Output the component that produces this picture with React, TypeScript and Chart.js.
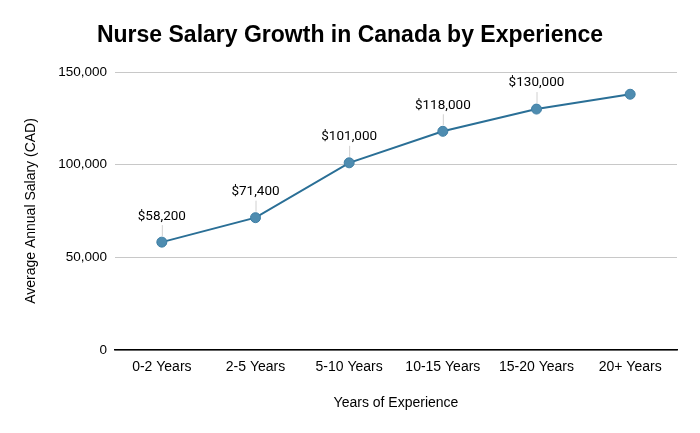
import React, { useEffect, useRef } from "react";
import { Chart, registerables } from "chart.js";

Chart.register(...registerables);

const categories = ["0-2 Years", "2-5 Years", "5-10 Years", "10-15 Years", "15-20 Years", "20+ Years"];
const salaries = [58200, 71400, 101000, 118000, 130000, 138000];
const pointLabels = ["$58,200", "$71,400", "$101,000", "$118,000", "$130,000", ""];
const chartTitle = "Nurse Salary Growth in Canada by Experience";
const xTitle = "Years of Experience";
const yTitle = "Average Annual Salary (CAD)";

const ARIAL = "'Liberation Sans', Arial, sans-serif";
const ROBOTO = "Roboto, 'Liberation Sans', Arial, sans-serif";

const titlePlugin = {
  id: "customTitle",
  afterDraw(chart: any) {
    const ctx = chart.ctx;
    ctx.save();
    ctx.font = `bold 23px ${ARIAL}`;
    ctx.fillStyle = "#000";
    ctx.textAlign = "center";
    ctx.textBaseline = "middle";
    ctx.fillText(chartTitle, 350, 36);
    ctx.restore();
  },
};

const labelPlugin = {
  id: "pointLabels",
  afterDatasetsDraw(chart: any) {
    const ctx = chart.ctx;
    const meta = chart.getDatasetMeta(0);
    ctx.save();
    meta.data.forEach((pt: any, i: number) => {
      const txt = pointLabels[i];
      if (!txt) return;
      const x = pt.x;
      const y = pt.y;
      ctx.strokeStyle = "#d0d0d0";
      ctx.lineWidth = 1;
      ctx.beginPath();
      ctx.moveTo(x + 0.5, y - 6);
      ctx.lineTo(x + 0.5, y - 17);
      ctx.stroke();
      ctx.font = `13.5px ${ROBOTO}`;
      ctx.fillStyle = "#000";
      ctx.textAlign = "center";
      ctx.textBaseline = "middle";
      ctx.fillText(txt, x, y - 26);
    });
    ctx.restore();
  },
};

export default function App() {
  const ref = useRef<HTMLCanvasElement | null>(null);
  useEffect(() => {
    if (!ref.current) return;
    const chart = new Chart(ref.current, {
      type: "line",
      data: {
        labels: categories,
        datasets: [
          {
            data: salaries,
            borderColor: "#2a6f96",
            backgroundColor: "#4e8cb0",
            pointBackgroundColor: "#4e8cb0",
            pointBorderColor: "#3f7fa5",
            pointBorderWidth: 1,
            pointRadius: 5,
            borderWidth: 2,
            tension: 0,
          },
        ],
      },
      options: {
        animation: false,
        responsive: false,
        maintainAspectRatio: false,
        layout: { padding: { top: 72, left: 0, right: 23, bottom: 0 } },
        plugins: {
          legend: { display: false },
          title: { display: false },
          tooltip: { enabled: false },
        },
        scales: {
          x: {
            offset: true,
            grid: { display: false, drawTicks: false },
            border: { display: true, color: "#000", width: 1.5 },
            ticks: { color: "#000", font: { family: ARIAL, size: 14 }, padding: 9, maxRotation: 0 },
            title: {
              display: true,
              text: xTitle,
              color: "#000",
              font: { family: ARIAL, size: 14 },
              padding: { top: 0, bottom: 21 },
            },
            afterFit(scale: any) {
              scale.height = 83;
            },
          },
          y: {
            min: 0,
            max: 150000,
            grid: { color: "#c8c8c8", drawTicks: false, lineWidth: 1 },
            border: { display: false },
            ticks: {
              stepSize: 50000,
              color: "#000",
              font: { family: ARIAL, size: 13.5 },
              padding: 8,
              callback: (v: any) => Number(v).toLocaleString("en-US"),
            },
            title: {
              display: true,
              text: yTitle,
              color: "#000",
              font: { family: ARIAL, size: 14 },
              padding: { top: 23, bottom: 0 },
            },
            afterFit(scale: any) {
              scale.width = 115;
            },
          },
        },
      },
      plugins: [titlePlugin, labelPlugin],
    } as any);
    return () => chart.destroy();
  }, []);
  return (
    <div style={{ position: "fixed", left: 0, top: 0, width: 700, height: 433, background: "#fff" }}>
      <canvas ref={ref} width={700} height={433} style={{ width: 700, height: 433 }} />
    </div>
  );
}
